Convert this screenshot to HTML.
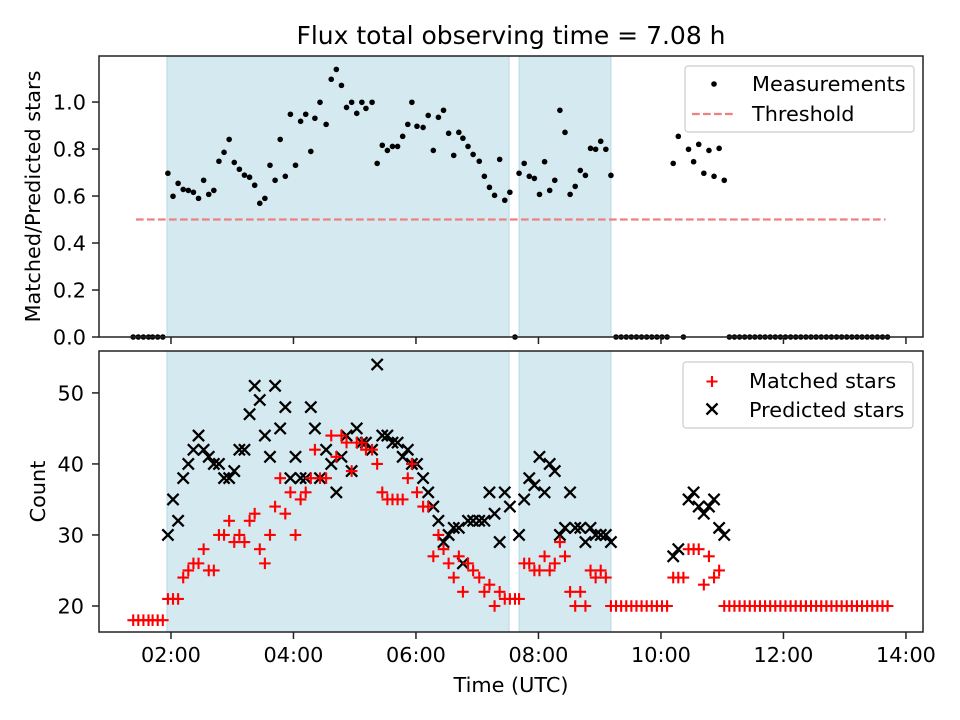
<!DOCTYPE html>
<html><head><meta charset="utf-8"><style>
html,body{margin:0;padding:0;background:#fff;}
svg{display:block;font-family:"DejaVu Sans","Liberation Sans",sans-serif;}
</style></head><body>
<svg id="fig" width="960" height="720" viewBox="0 0 960 720"></svg>
<script>
// ---- data (times in minutes after 00:00 UTC) ----
const times = [83,88,93,98,102,107,112,
117,122,127,132,137,142,147,152,157,162,167,172,177,182,187,192,197,202,207,212,217,222,227,232,237,242,247,252,257,261,266,272,277,282,287,292,297,302,307,311,317,322,327,332,337,342,347,352,356,361,367,372,377,382,387,392,397,402,406,411,416,422,427,432,437,442,447,452,
457,461,466,471,476,481,486,491,496,501,506,511,516,521,526,531,536,541,546,551,
556,561,566,571,576,581,586,591,596,601,606,
612,617,622,627,632,637,642,647,652,657,662,
667,672,677,682,687,692,697,702,707,712,717,722,727,732,737,742,747,752,757,762,767,772,777,782,787,792,797,802,807,812,817,822];
const ratio = [0,0,0,0,0,0,0,
0.697,0.599,0.654,0.628,0.624,0.616,0.59,0.667,0.607,0.624,0.748,0.786,0.841,0.743,0.714,0.689,0.68,0.646,0.569,0.59,0.731,0.667,0.841,0.684,0.948,0.731,0.918,0.948,0.79,0.931,0.999,0.905,1.097,1.139,1.071,0.977,0.999,0.952,0.999,0.973,0.999,0.739,0.816,0.794,0.811,0.811,0.854,0.905,0.999,0.897,0.892,0.943,0.794,0.935,0.965,0.867,0.773,0.871,0.846,0.811,0.777,0.748,0.684,0.637,0.603,0.756,0.582,0.616,
0,0.697,0.739,0.684,0.675,0.607,0.746,0.624,0.667,0.965,0.871,0.607,0.641,0.709,0.688,0.803,0.799,0.833,0.799,0.688,
0,0,0,0,0,0,0,0,0,0,0,
0.739,0.854,0,0.799,0.746,0.82,0.697,0.794,0.684,0.803,0.667,
0,0,0,0,0,0,0,0,0,0,0,0,0,0,0,0,0,0,0,0,0,0,0,0,0,0,0,0,0,0,0,0];
const predicted = [null,null,null,null,null,null,null,
30,35,32,38,40,42,44,42,41,40,40,38,38,39,42,42,47,51,49,44,41,51,45,48,38,41,38,38,48,45,38,42,40,36,41,44,39,45,43,43,42,54,44,44,43,43,41,42,40,40,38,36,34,32,29,30,31,31,26,32,32,32,32,36,33,29,36,34,
null,30,35,38,37,41,36,40,39,30,31,36,31,31,29,31,30,30,30,29,
null,null,null,null,null,null,null,null,null,null,null,
27,28,null,35,36,34,33,34,35,31,30,
null,null,null,null,null,null,null,null,null,null,null,null,null,null,null,null,null,null,null,null,null,null,null,null,null,null,null,null,null,null,null,null];
const matched = [18,18,18,18,18,18,18,
21,21,21,24,25,26,26,28,25,25,30,30,32,29,30,29,32,33,28,26,30,34,38,33,36,30,35,36,38,42,38,38,44,41,44,43,39,43,43,42,42,40,36,35,35,35,35,38,40,36,34,34,27,30,28,26,24,27,22,26,25,24,22,23,20,22,21,21,
21,21,26,26,25,25,27,25,26,29,27,22,20,22,20,25,24,25,24,20,
20,20,20,20,20,20,20,20,20,20,20,
24,24,24,28,28,28,23,27,24,25,20,
20,20,20,20,20,20,20,20,20,20,20,20,20,20,20,20,20,20,20,20,20,20,20,20,20,20,20,20,20,20,20,20];
const spans = [[116.1,451.2],[461,551]];
const threshold = 0.5;
const thresholdRange = [85.7,820];
const xTicks = [120,240,360,480,600,720,840];
const xTickLabels = ["02:00","04:00","06:00","08:00","10:00","12:00","14:00"];
const topTicks = [0,0.2,0.4,0.6,0.8,1.0];
const topTickLabels = ["0.0","0.2","0.4","0.6","0.8","1.0"];
const botTicks = [20,30,40,50];
const botTickLabels = ["20","30","40","50"];

// ---- axes ----
const L=99,R=923,T1=56,B1=337,T2=351,B2=632;
const xMin=49.5,xMax=856.7;
function X(m){return L+(m-xMin)/(xMax-xMin)*(R-L);}
function Y1(v){return B1-(v-0)/(1.196-0)*(B1-T1);}
function Y2(v){return B2-(v-16.34)/(55.9-16.34)*(B2-T2);}

const NS="http://www.w3.org/2000/svg";
const svg=document.getElementById('fig');
function el(tag,attrs,parent){const e=document.createElementNS(NS,tag);for(const k in attrs)e.setAttribute(k,attrs[k]);(parent||svg).appendChild(e);return e;}
function txt(s,attrs,parent){const e=el('text',attrs,parent);e.textContent=s;return e;}

const FS=20.8;
// title
const title=txt("Flux total observing time = 7.08 h",{x:511,y:44,'font-size':25,'text-anchor':'middle',fill:'#000'});



function panel(T,B,name){
  const g=el('g',{});
  
  
  spans.forEach((s,i)=>{
    const r=el('rect',{x:X(s[0]),y:T,width:X(s[1])-X(s[0]),height:B-T,fill:'#d5eaf0',stroke:'#b3d8e4','stroke-width':1},g);
    
    
  });
  return g;
}
const gTop=panel(T1,B1,'ratio-panel');
const gBot=panel(T2,B2,'count-panel');

// threshold
const th=el('line',{x1:X(thresholdRange[0]),x2:X(thresholdRange[1]),y1:Y1(threshold),y2:Y1(threshold),stroke:'#f08080','stroke-width':2.2,'stroke-dasharray':'7.7,3.3'},gTop);



// measurements
times.forEach((t,i)=>{
  const c=el('circle',{cx:X(t),cy:Y1(ratio[i]),r:2.8,fill:'#000'},gTop);
  
  
});

// predicted (x) and matched (+)
times.forEach((t,i)=>{
  if(predicted[i]!==null){
    const x=X(t),y=Y2(predicted[i]),s=5.6;
    const p=el('path',{d:`M${x-s},${y-s}L${x+s},${y+s}M${x-s},${y+s}L${x+s},${y-s}`,stroke:'#000','stroke-width':2.3,fill:'none'},gBot);
    
    
  }
});
times.forEach((t,i)=>{
  const x=X(t),y=Y2(matched[i]),s=5.8;
  const p=el('path',{d:`M${x-s},${y}L${x+s},${y}M${x},${y-s}L${x},${y+s}`,stroke:'#ff0000','stroke-width':2.1,fill:'none'},gBot);
  
  
});

// frames
[[T1,B1],[T2,B2]].forEach((tb,k)=>{
  const f=el('rect',{x:L,y:tb[0],width:R-L,height:tb[1]-tb[0],fill:'none',stroke:'#222','stroke-width':1.5});
  
  
});

// x ticks
xTicks.forEach((m,i)=>{
  [B1,B2].forEach(b=>{el('line',{x1:X(m),x2:X(m),y1:b,y2:b+7,stroke:'#222','stroke-width':1.5});});
  const tl=txt(xTickLabels[i],{x:X(m),y:662,'font-size':FS,'text-anchor':'middle'});
  
  
});
topTicks.forEach((v,i)=>{
  el('line',{x1:L-7,x2:L,y1:Y1(v),y2:Y1(v),stroke:'#222','stroke-width':1.5});
  const tl=txt(topTickLabels[i],{x:L-13,y:Y1(v)+7.5,'font-size':FS,'text-anchor':'end'});
  
  
});
botTicks.forEach((v,i)=>{
  el('line',{x1:L-7,x2:L,y1:Y2(v),y2:Y2(v),stroke:'#222','stroke-width':1.5});
  const tl=txt(botTickLabels[i],{x:L-15,y:Y2(v)+7.5,'font-size':FS,'text-anchor':'end'});
  
  
});

// axis labels
const xl=txt("Time (UTC)",{x:511,y:692,'font-size':FS,'text-anchor':'middle'});


const yl1=txt("Matched/Predicted stars",{x:0,y:0,'font-size':FS,'text-anchor':'middle',transform:`translate(40,${(T1+B1)/2}) rotate(-90)`});


const yl2=txt("Count",{x:0,y:0,'font-size':FS,'text-anchor':'middle',transform:`translate(45,${(T2+B2)/2}) rotate(-90)`});



// legends
const lg1=el('g',{});


el('rect',{x:685,y:66,width:229,height:66,rx:3,fill:'#fff','fill-opacity':0.85,stroke:'#ccc','stroke-width':1.2},lg1);
el('circle',{cx:714,cy:84,r:2.8,fill:'#000'},lg1);
txt("Measurements",{x:752,y:91,'font-size':FS},lg1);
el('line',{x1:692,x2:736,y1:114,y2:114,stroke:'#f08080','stroke-width':2.2,'stroke-dasharray':'7.7,3.3'},lg1);
txt("Threshold",{x:752,y:121,'font-size':FS},lg1);

const lg2=el('g',{});


el('rect',{x:683,y:362,width:230,height:66,rx:3,fill:'#fff','fill-opacity':0.85,stroke:'#ccc','stroke-width':1.2},lg2);
el('path',{d:'M706.5,381.5L717.5,381.5M712,376L712,387',stroke:'#ff0000','stroke-width':2.1,fill:'none'},lg2);
txt("Matched stars",{x:749,y:388,'font-size':FS},lg2);
el('path',{d:'M706.5,403.5L717.5,414.5M706.5,414.5L717.5,403.5',stroke:'#000','stroke-width':2.3,fill:'none'},lg2);
txt("Predicted stars",{x:749,y:417,'font-size':FS},lg2);
</script>
</body></html>
